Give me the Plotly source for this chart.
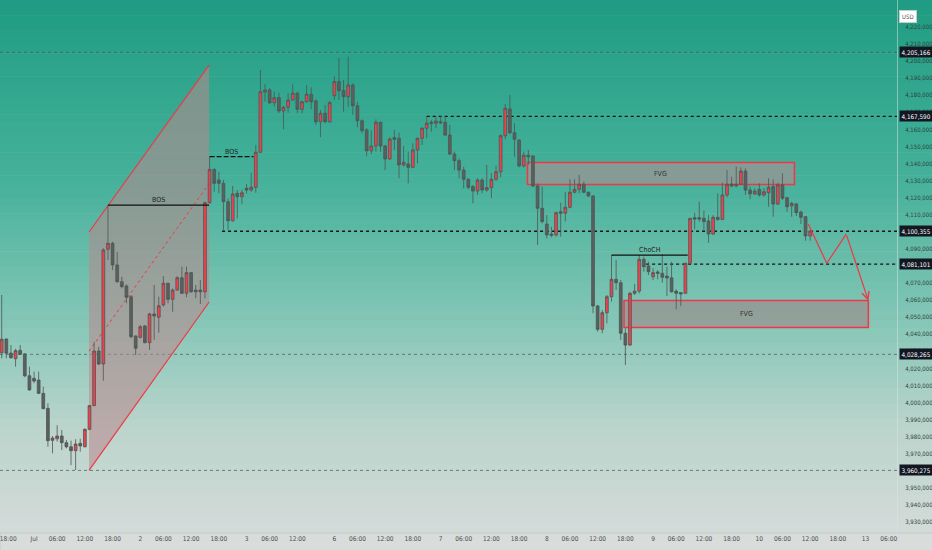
import numpy as np
import plotly.graph_objects as go

# hourly bars (23 per trading day), prices in thousands
bars = list(range(1, 177))
opens_k = [
    4029.2, 4037.2, 4029.0, 4025.7, 4030.6, 4028.5, 4015.7, 4014.2, 4013.2, 4005.4,
    3996.6, 3977.9, 3978.8, 3980.4, 3976.5, 3974.1, 3971.8, 3976.1, 3974.1, 3984.3,
    3998.2, 4030.2, 4022.6, 4089.8, 4093.3, 4080.6, 4070.8, 4068.3, 4062.0, 4039.0,
    4038.2, 4044.9, 4035.1, 4051.9, 4050.0, 4057.2, 4069.9, 4060.5, 4065.9, 4073.1,
    4064.0, 4076.1, 4065.9, 4065.9, 4064.9, 4117.1, 4136.6, 4130.4, 4128.4, 4117.7,
    4106.5, 4122.6, 4120.6, 4125.5, 4124.5, 4126.1, 4146.6, 4181.9, 4183.1, 4175.7,
    4178.6, 4170.8, 4173.0, 4177.2, 4181.2, 4171.8, 4176.2, 4180.6, 4176.7, 4164.5,
    4169.5, 4164.5, 4179.8, 4188.0, 4182.7, 4179.2, 4186.0, 4173.9, 4165.1, 4159.7,
    4147.5, 4150.3, 4164.2, 4150.3, 4142.7, 4155.2, 4154.8, 4139.2, 4139.8, 4137.8,
    4148.0, 4154.8, 4160.7, 4164.2, 4163.6, 4164.5, 4164.2, 4156.7, 4145.6, 4141.7,
    4136.2, 4130.8, 4126.5, 4123.9, 4130.4, 4124.5, 4125.9, 4130.8, 4135.2, 4156.3,
    4172.0, 4158.1, 4153.8, 4138.6, 4144.9, 4144.4, 4126.9, 4113.8, 4104.6, 4098.7,
    4098.2, 4111.8, 4110.9, 4114.4, 4123.2, 4124.9, 4127.9, 4123.2, 4121.0, 4056.6,
    4042.9, 4052.6, 4062.0, 4072.2, 4070.2, 4040.6, 4033.7, 4064.0, 4065.3, 4083.9,
    4080.0, 4073.7, 4076.5, 4075.7, 4074.1, 4073.1, 4065.3, 4064.4, 4064.0, 4081.6,
    4108.3, 4108.3, 4107.9, 4106.4, 4098.7, 4108.5, 4107.3, 4121.6, 4128.0, 4126.9,
    4127.9, 4135.6, 4124.5, 4122.2, 4124.9, 4121.6, 4122.9, 4126.5, 4116.3, 4127.5,
    4120.0, 4115.2, 4116.3, 4111.6, 4108.9, 4097.6,
]
highs_k = [
    4063.0, 4037.6, 4033.7, 4031.5, 4033.7, 4028.9, 4021.0, 4018.1, 4018.1, 4009.3,
    3999.6, 3980.4, 3986.7, 3983.9, 3978.1, 3977.7, 3978.5, 3978.8, 3984.9, 3998.6,
    4035.6, 4032.7, 4090.4, 4115.7, 4094.2, 4088.4, 4073.7, 4069.3, 4063.0, 4039.4,
    4045.4, 4045.4, 4052.6, 4068.9, 4062.0, 4074.1, 4070.2, 4066.9, 4074.1, 4079.6,
    4079.6, 4076.5, 4068.9, 4071.8, 4117.7, 4144.0, 4137.2, 4135.2, 4130.4, 4119.7,
    4126.9, 4124.5, 4124.5, 4128.0, 4134.6, 4150.9, 4194.8, 4186.6, 4184.1, 4182.1,
    4181.5, 4173.7, 4181.2, 4186.4, 4182.1, 4176.8, 4186.0, 4184.7, 4177.7, 4171.4,
    4174.3, 4176.8, 4191.3, 4201.7, 4189.0, 4202.6, 4187.0, 4176.2, 4165.9, 4160.7,
    4159.3, 4165.9, 4164.5, 4150.9, 4155.4, 4159.7, 4158.1, 4150.3, 4147.0, 4151.9,
    4155.4, 4161.2, 4167.9, 4165.5, 4167.5, 4167.9, 4167.5, 4162.6, 4147.0, 4143.1,
    4138.2, 4131.4, 4127.5, 4131.4, 4131.4, 4139.2, 4134.3, 4138.6, 4157.2, 4174.9,
    4180.2, 4163.6, 4154.2, 4147.0, 4148.0, 4145.0, 4128.4, 4126.5, 4109.9, 4103.0,
    4111.8, 4117.1, 4123.5, 4130.8, 4130.8, 4133.3, 4129.4, 4123.5, 4121.6, 4057.2,
    4054.2, 4063.0, 4086.4, 4083.5, 4071.8, 4043.5, 4064.9, 4069.4, 4086.4, 4085.5,
    4082.5, 4078.7, 4077.6, 4087.0, 4079.6, 4082.5, 4066.3, 4064.4, 4081.9, 4108.0,
    4111.2, 4117.7, 4112.4, 4109.9, 4109.9, 4122.6, 4128.8, 4136.2, 4132.3, 4138.2,
    4137.8, 4137.2, 4126.5, 4125.5, 4128.4, 4125.5, 4131.4, 4130.8, 4128.8, 4134.3,
    4120.6, 4117.7, 4117.1, 4112.4, 4109.3, 4101.1,
]
lows_k = [
    4025.9, 4025.9, 4025.7, 4021.0, 4027.9, 4014.8, 4007.0, 4011.3, 4005.0, 3996.2,
    3974.1, 3970.3, 3977.1, 3972.2, 3973.2, 3963.3, 3960.5, 3971.2, 3973.8, 3983.9,
    3998.0, 4022.0, 4012.8, 4083.5, 4077.6, 4070.2, 4066.9, 4058.2, 4037.6, 4027.9,
    4037.6, 4034.7, 4030.8, 4036.7, 4040.9, 4056.2, 4058.2, 4053.2, 4065.5, 4063.6,
    4061.7, 4064.4, 4061.1, 4057.7, 4061.1, 4116.7, 4123.5, 4122.6, 4101.1, 4101.1,
    4106.0, 4107.9, 4116.3, 4122.6, 4123.5, 4122.9, 4146.4, 4176.2, 4174.9, 4173.3,
    4169.5, 4160.1, 4169.8, 4176.8, 4169.5, 4169.5, 4175.7, 4171.8, 4162.6, 4155.4,
    4163.6, 4163.9, 4177.2, 4177.2, 4170.4, 4173.3, 4168.5, 4161.2, 4157.7, 4144.4,
    4145.6, 4147.0, 4147.0, 4136.2, 4142.1, 4148.0, 4131.4, 4138.2, 4128.4, 4137.2,
    4140.2, 4150.9, 4154.8, 4158.7, 4160.7, 4163.2, 4156.2, 4145.0, 4136.2, 4131.4,
    4125.5, 4124.9, 4116.7, 4121.6, 4122.6, 4123.5, 4119.7, 4130.0, 4132.0, 4154.2,
    4157.3, 4144.0, 4137.8, 4137.8, 4139.2, 4126.1, 4092.3, 4105.0, 4096.2, 4096.8,
    4097.2, 4097.2, 4106.0, 4113.8, 4122.6, 4122.6, 4122.6, 4120.6, 4052.3, 4041.5,
    4040.6, 4046.4, 4059.1, 4065.9, 4036.7, 4022.0, 4033.1, 4063.0, 4064.0, 4076.7,
    4074.7, 4071.8, 4072.2, 4070.2, 4062.4, 4064.4, 4054.6, 4056.6, 4063.6, 4081.2,
    4101.5, 4106.0, 4101.1, 4093.6, 4098.2, 4106.5, 4106.9, 4120.2, 4126.1, 4126.1,
    4127.5, 4121.6, 4119.1, 4121.6, 4120.6, 4120.6, 4114.7, 4108.9, 4115.7, 4118.7,
    4111.8, 4108.9, 4109.3, 4104.6, 4094.8, 4094.8,
]
closes_k = [
    4037.1, 4028.9, 4026.3, 4030.4, 4028.3, 4015.7, 4007.4, 4012.6, 4005.4, 3996.4,
    3977.7, 3979.2, 3980.4, 3976.5, 3974.1, 3971.8, 3975.7, 3974.6, 3984.3, 3998.2,
    4030.2, 4022.6, 4089.4, 4093.3, 4080.6, 4070.8, 4067.9, 4061.7, 4038.6, 4031.8,
    4044.4, 4035.1, 4051.9, 4050.7, 4056.7, 4069.9, 4060.5, 4065.9, 4073.1, 4064.0,
    4076.1, 4064.9, 4064.9, 4064.9, 4117.1, 4136.6, 4128.4, 4128.4, 4117.7, 4106.5,
    4122.2, 4120.6, 4122.9, 4124.5, 4126.1, 4146.6, 4182.1, 4183.1, 4175.7, 4178.6,
    4170.8, 4173.0, 4177.2, 4181.2, 4171.8, 4176.2, 4180.6, 4176.2, 4164.5, 4169.5,
    4164.5, 4175.7, 4188.0, 4182.7, 4179.2, 4186.0, 4173.9, 4165.1, 4159.3, 4147.5,
    4150.3, 4164.2, 4150.3, 4142.7, 4154.4, 4154.2, 4139.2, 4140.7, 4137.8, 4148.0,
    4154.8, 4160.7, 4163.6, 4163.6, 4164.9, 4163.9, 4156.7, 4145.6, 4141.7, 4136.2,
    4130.8, 4126.1, 4123.9, 4130.4, 4124.5, 4125.9, 4130.8, 4135.2, 4156.3, 4172.4,
    4158.1, 4154.2, 4138.6, 4144.9, 4144.0, 4126.9, 4113.8, 4106.0, 4098.2, 4098.0,
    4111.2, 4110.9, 4114.4, 4123.2, 4124.9, 4127.9, 4123.2, 4121.0, 4056.6, 4042.9,
    4052.6, 4062.0, 4072.2, 4070.2, 4040.6, 4033.7, 4064.0, 4065.3, 4083.9, 4079.6,
    4076.7, 4076.1, 4075.7, 4073.4, 4073.0, 4064.9, 4064.0, 4063.6, 4081.6, 4107.9,
    4107.5, 4107.5, 4106.0, 4098.7, 4108.5, 4107.3, 4121.6, 4127.9, 4126.9, 4127.9,
    4135.6, 4124.5, 4122.2, 4123.9, 4121.6, 4123.5, 4126.1, 4116.3, 4127.5, 4119.7,
    4114.7, 4116.7, 4111.2, 4108.5, 4097.6, 4100.5,
]

time_tick_bars = [2.4, 8, 13, 19, 25, 31, 36, 42, 48, 54, 59, 65, 73, 78, 84, 90, 96,
                  101, 107, 113, 119, 124, 130, 136, 142, 147, 153, 159, 165, 170,
                  176, 182, 188, 193]
time_tick_text = ["18:00", "Jul", "06:00", "12:00", "18:00", "2", "06:00", "12:00",
                  "18:00", "3", "06:00", "12:00", "6", "06:00", "12:00", "18:00", "7",
                  "06:00", "12:00", "18:00", "8", "06:00", "12:00", "18:00", "9",
                  "06:00", "12:00", "18:00", "10", "06:00", "12:00", "18:00", "13",
                  "06:00"]

# price scale ticks (those hidden under level tags are left out)
price_ticks = [v for v in range(3930000, 4230000, 10000)
               if v not in (3960000, 4080000, 4100000)]

# marked price levels and the bar where each one starts (None = whole width)
levels = [4205166, 4167590, 4100355, 4081101, 4028265, 3960275]
level_start = [None, 93, 48.7, 140.5, None, None]
level_dotted = [False, True, True, True, False, False]

# drawing anchors (bar index / price in thousands)
channel_bars = [19.9, 45.9]
channel_top = [4099.9, 4197.7]
channel_bottom = [3960.3, 4058.9]
bos_1 = [24, 45.9, 4115.7]
bos_2 = [46, 55.5, 4144.1]
choch = [133, 149.5, 4086.4]
fvg_upper = [114.8, 172.6, 4127.7, 4140.6]
fvg_lower = [135.7, 188.6, 4043.9, 4059.8]
path_bars = [175.6, 179.6, 183.8, 188.6]
path_prices = [4104.6, 4081.6, 4098.7, 4059.7]

K = 1000
o = np.array(opens_k) * K
h = np.array(highs_k) * K
l = np.array(lows_k) * K
c = np.array(closes_k) * K

RED = "#f23645"
NARROW = "Liberation Sans Narrow, DejaVu Sans Condensed, Roboto"

fig = go.Figure()

# background gradient (teal to grey)
stops = [(0.0, (30, 156, 130)), (0.35, (72, 178, 156)), (0.6, (132, 198, 182)),
         (0.8, (186, 212, 204)), (1.0, (212, 219, 217))]


def grad(t):
    for (t0, c0), (t1, c1) in zip(stops[:-1], stops[1:]):
        if t <= t1:
            f = (t - t0) / (t1 - t0)
            return "rgb(%d,%d,%d)" % tuple(round(a + (b - a) * f) for a, b in zip(c0, c1))
    return "rgb(%d,%d,%d)" % stops[-1][1]


n_bands = 70
for i in range(n_bands):
    fig.add_shape(type="rect", xref="paper", yref="paper", x0=0, x1=1.05,
                  y0=1 - (i + 1) / n_bands - 0.001, y1=1 - i / n_bands,
                  fillcolor=grad((i + 0.5) / n_bands), line_width=0, layer="below")
fig.add_shape(type="rect", xref="paper", yref="paper", x0=0, x1=1.05, y0=-0.05, y1=0,
              fillcolor="#d8dcdb", line=dict(color="#c3cac8", width=1), layer="below")

# channel
px = [channel_bars[0], channel_bars[1], channel_bars[1], channel_bars[0]]
py = [channel_top[0], channel_top[1], channel_bottom[1], channel_bottom[0]]
path = "M " + " L ".join("%s,%s" % (x, y * K) for x, y in zip(px, py)) + " Z"
fig.add_shape(type="path", path=path, xref="x", yref="y",
              fillcolor="rgba(185,135,140,0.55)", line_width=0, layer="below")
for yy in (channel_top, channel_bottom):
    fig.add_shape(type="line", xref="x", yref="y", x0=channel_bars[0], x1=channel_bars[1],
                  y0=yy[0] * K, y1=yy[1] * K, line=dict(color=RED, width=1.2), layer="below")
fig.add_shape(type="line", xref="x", yref="y", x0=channel_bars[0], x1=channel_bars[1],
              y0=(channel_top[0] + channel_bottom[0]) / 2 * K,
              y1=(channel_top[1] + channel_bottom[1]) / 2 * K,
              line=dict(color=RED, width=1, dash="dot"), layer="below")

# FVG boxes
for box in (fvg_upper, fvg_lower):
    fig.add_shape(type="rect", xref="x", yref="y", x0=box[0], x1=box[1],
                  y0=box[2] * K, y1=box[3] * K, fillcolor="rgba(150,150,148,0.8)",
                  line=dict(color=RED, width=1.5), layer="below")
    fig.add_annotation(x=(box[0] + box[1]) / 2, y=(box[2] + box[3]) / 2 * K, text="FVG",
                       showarrow=False, font=dict(family=NARROW, size=7, color="#333"))

# level lines
for lv, st, dotted in zip(levels, level_start, level_dotted):
    if dotted:
        fig.add_shape(type="line", xref="x", yref="y", x0=st, x1=194.8, y0=lv, y1=lv,
                      line=dict(color="#151515", width=1.3, dash="dot"), layer="below")
    else:
        fig.add_shape(type="line", xref="paper", yref="y", x0=0, x1=1, y0=lv, y1=lv,
                      line=dict(color="rgba(70,95,90,0.75)", width=1, dash="3px,3px"),
                      layer="below")
    fig.add_annotation(xref="paper", x=1.002, y=lv, xanchor="left", text=f"{lv:,}",
                       showarrow=False, bgcolor="#131722", borderpad=1.5,
                       font=dict(family=NARROW, size=6.3, color="white"))

# structure labels
for seg, name, dash in ((bos_1, "BOS", "solid"), (bos_2, "BOS", "5px,2px"), (choch, "ChoCH", "solid")):
    fig.add_shape(type="line", xref="x", yref="y", x0=seg[0], x1=seg[1],
                  y0=seg[2] * K, y1=seg[2] * K, line=dict(color="#111", width=1.2, dash=dash))
    fig.add_annotation(x=(seg[0] + seg[1]) / 2, y=seg[2] * K, yanchor="bottom", text=name,
                       showarrow=False, yshift=-1,
                       font=dict(family=NARROW, size=7, color="#222"))

# candles
fig.add_trace(go.Candlestick(
    x=bars, open=o, high=h, low=l, close=c,
    increasing=dict(fillcolor="#f0404e", line=dict(color="#4e5553", width=0.8)),
    decreasing=dict(fillcolor="#5a605f", line=dict(color="#4e5553", width=0.8)),
    whiskerwidth=0, showlegend=False, hoverinfo="skip",
))

# projection path
fig.add_trace(go.Scatter(x=path_bars[:3], y=np.array(path_prices[:3]) * K, mode="lines",
                         line=dict(color=RED, width=1.2), showlegend=False, hoverinfo="skip"))
fig.add_annotation(x=path_bars[3], y=path_prices[3] * K, ax=path_bars[2], ay=path_prices[2] * K,
                   xref="x", yref="y", axref="x", ayref="y", showarrow=True, text="",
                   arrowhead=5, arrowsize=1.2, arrowwidth=1.2, arrowcolor=RED)

fig.add_annotation(xref="paper", yref="paper", x=1.022, y=0.981, text="USD", showarrow=False,
                   bgcolor="white", bordercolor="#c8cccb", borderwidth=1, borderpad=2,
                   font=dict(family=NARROW, size=6, color="#555"))

fig.update_layout(
    width=932, height=550,
    margin=dict(l=0, r=35, t=0, b=17, autoexpand=False),
    paper_bgcolor="#d8dcdb", plot_bgcolor="rgba(0,0,0,0)",
    boxgap=0.4, boxgroupgap=0,
    font=dict(family=NARROW, size=7, color="#333"),
    xaxis=dict(range=[0.63, 194.8], rangeslider=dict(visible=False), showgrid=False,
               zeroline=False, tickmode="array", tickvals=time_tick_bars, automargin=False,
               ticktext=time_tick_text, ticks="", ticklabeloverflow="allow",
               tickfont=dict(family=NARROW, size=6.5, color="#4a5250")),
    yaxis=dict(range=[3923590, 4235817], side="right", showgrid=False, zeroline=False,
               tickmode="array", tickvals=price_ticks, automargin=False,
               tickformat=",d", ticks="", ticklabelstandoff=6,
               tickfont=dict(family=NARROW, size=6, color="#2f3f3b"),
               showline=True, linecolor="rgba(220,230,226,0.5)", linewidth=1),
)

# drop the page's default body margin so the chart sits at the window corner
fig.write_html("out.html", config={"displayModeBar": False},
               post_script="document.body.style.margin='0';")
